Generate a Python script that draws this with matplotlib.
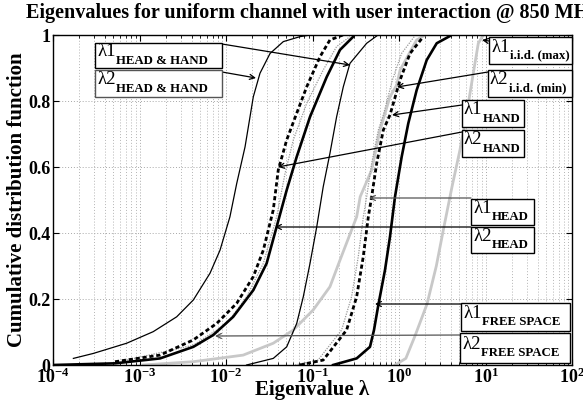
import numpy as np
import matplotlib
matplotlib.use("Agg")
import matplotlib.pyplot as plt
from matplotlib.patches import Rectangle
from matplotlib.ticker import FixedLocator, FixedFormatter, LogLocator, NullFormatter

plt.rcParams['font.family'] = ['Liberation Serif', 'DejaVu Sans']
plt.rcParams['font.weight'] = 'bold'
plt.rcParams['mathtext.fontset'] = 'custom'
plt.rcParams['mathtext.rm'] = 'Liberation Serif:bold'
plt.rcParams['mathtext.it'] = 'Liberation Serif:bold'
plt.rcParams['mathtext.bf'] = 'Liberation Serif:bold'
plt.rcParams['mathtext.default'] = 'bf'

# valores (eigenvalor, CDF)
hh_l2_x = [1.72e-4, 2.92e-4, 7.11e-4, 1.44e-3, 2.69e-3, 4.19e-3, 6.53e-3, 8.53e-3, 0.0111, 0.0133,
           0.0166, 0.0207, 0.0247, 0.0323, 0.046, 0.0717, 0.0936]
hh_l2_y = [0.020, 0.035, 0.066, 0.101, 0.146, 0.197, 0.278, 0.348, 0.449, 0.55,
           0.661, 0.813, 0.884, 0.944, 0.98, 0.995, 1.0]
hh_l1_x = [0.0173, 0.0352, 0.0503, 0.0657, 0.0783, 0.0936, 0.112, 0.133, 0.159, 0.19, 0.227, 0.271, 0.423, 0.552]
hh_l1_y = [0.0, 0.02, 0.055, 0.126, 0.207, 0.308, 0.419, 0.54, 0.641, 0.752, 0.843, 0.914, 0.975, 0.997]

hand_l2_x = [5.21e-4, 1.73e-3, 4.19e-3, 7.81e-3, 0.0133, 0.0207, 0.027, 0.0352, 0.0402, 0.0503,
             0.0657, 0.0857, 0.122, 0.159, 0.225]
hand_l2_y = [0.01, 0.03, 0.076, 0.126, 0.187, 0.268, 0.348, 0.47, 0.591, 0.682,
             0.763, 0.843, 0.934, 0.985, 1.0]
hand_l1_x = [0.0717, 0.133, 0.248, 0.324, 0.386, 0.442, 0.483, 0.552, 0.659, 0.787, 1.03, 1.34, 1.91]
hand_l1_y = [0.0, 0.015, 0.106, 0.207, 0.328, 0.449, 0.51, 0.611, 0.712, 0.758, 0.864, 0.944, 0.995]

head_l2_x = [7.11e-4, 4.19e-3, 0.0102, 0.0173, 0.027, 0.0385, 0.0481, 0.060, 0.0857, 0.133, 0.19, 0.271]
head_l2_y = [0.015, 0.06, 0.126, 0.207, 0.308, 0.449, 0.58, 0.682, 0.793, 0.894, 0.965, 0.995]
head_l1_x = [0.063, 0.116, 0.217, 0.283, 0.338, 0.387, 0.423, 0.483, 0.577, 0.66, 0.84, 1.07, 1.5]
head_l1_y = [0.0, 0.015, 0.106, 0.207, 0.328, 0.449, 0.51, 0.611, 0.712, 0.758, 0.864, 0.944, 0.995]

fs_l2_x = [1.0e-4, 5.21e-4, 1.73e-3, 4.19e-3, 7.13e-3, 0.0121, 0.0207, 0.0295, 0.0385, 0.0503,
           0.0657, 0.0936, 0.146, 0.208, 0.296]
fs_l2_y = [0.0, 0.005, 0.02, 0.055, 0.091, 0.146, 0.227, 0.308, 0.419, 0.53,
           0.631, 0.752, 0.873, 0.955, 0.995]
fs_l1_x = [0.173, 0.324, 0.462, 0.514, 0.577, 0.689, 0.787, 0.899, 1.074, 1.28, 1.60, 2.09, 2.73, 3.89]
fs_l1_y = [0.0, 0.02, 0.055, 0.106, 0.182, 0.288, 0.389, 0.51, 0.631, 0.732, 0.833, 0.924, 0.975, 0.997]

iid_l2_x = [1.1e-3, 4.19e-3, 0.0158, 0.0352, 0.060, 0.102, 0.159, 0.208, 0.324, 0.356, 0.483,
            0.603, 0.787, 0.94, 1.03, 1.60, 2.0]
iid_l2_y = [0.0, 0.01, 0.03, 0.066, 0.106, 0.167, 0.237, 0.318, 0.449, 0.51, 0.591,
            0.712, 0.813, 0.848, 0.894, 0.985, 1.0]
iid_l1_x = [0.9, 1.2, 1.53, 2.11, 2.7, 3.31, 4.1, 5.07, 6.07, 7.22, 8.26, 9.43]
iid_l1_y = [0.0, 0.02, 0.088, 0.185, 0.3, 0.419, 0.54, 0.652, 0.763, 0.884, 0.975, 1.0]

fig = plt.figure(figsize=(5.83, 4.05), dpi=100)
ax = fig.add_axes([53/583, 1 - 365/405, 519/583, 330/405])

thin = dict(color='black', lw=0.9)
gris_punt = dict(color='#9a9a9a', lw=0.9, ls=(0, (1, 1)))
negro_punt = dict(color='black', lw=2.0, ls=(0, (1.5, 1.0)))
grueso = dict(color='black', lw=1.9)
gris = dict(color='#c8c8c8', lw=2.0)

ax.plot(iid_l2_x, iid_l2_y, **gris)
ax.plot(iid_l1_x, iid_l1_y, **gris)
ax.plot(hh_l2_x, hh_l2_y, **thin)
ax.plot(hh_l1_x, hh_l1_y, **thin)
ax.plot(head_l2_x, head_l2_y, **gris_punt)
ax.plot(head_l1_x, head_l1_y, **gris_punt)
ax.plot(fs_l2_x, fs_l2_y, **grueso)
ax.plot(fs_l1_x, fs_l1_y, **grueso)
ax.plot(hand_l2_x, hand_l2_y, **negro_punt)
ax.plot(hand_l1_x, hand_l1_y, **negro_punt)

ax.set_xscale('log')
ax.set_xlim(1e-4, 1e2)
ax.set_ylim(0, 1)
ax.xaxis.set_major_locator(FixedLocator([1e-4, 1e-3, 1e-2, 1e-1, 1e0, 1e1, 1e2]))
ax.xaxis.set_major_formatter(FixedFormatter([r'$10^{%d}$' % e for e in range(-4, 3)]))
ax.xaxis.set_minor_locator(LogLocator(base=10, subs=np.arange(2, 10), numticks=20))
ax.xaxis.set_minor_formatter(NullFormatter())
ax.set_yticks([0, 0.2, 0.4, 0.6, 0.8, 1])
ax.set_yticklabels(['0', '0.2', '0.4', '0.6', '0.8', '1'])
ax.tick_params(which='both', direction='in', top=True, right=True, labelsize=13, pad=2)
ax.tick_params(which='major', length=4)
ax.tick_params(which='minor', length=2)
ax.grid(True, which='major', ls=(0, (1, 2)), color='#a8a8a8', lw=0.7)
ax.grid(True, which='minor', axis='x', ls=(0, (1, 2)), color='#b4b4b4', lw=0.7)
for s in ax.spines.values():
    s.set_linewidth(1.0)

ax.set_xlabel('Eigenvalue λ', fontsize=15, fontweight='bold', labelpad=-5)
ax.set_ylabel('Cumulative distribution function', fontsize=15, fontweight='bold', labelpad=1)
ax.set_title('Eigenvalues for uniform channel with user interaction @ 850 MHz',
             fontsize=14.5, fontweight='bold', pad=12)


def px(x, y):
    return ((x - 53) / 519, (365 - y) / 330)


# cajas: lambda, subindice, caja (x0, y0, x1, y1 en pixeles), flecha (inicio, punta), colores
notas = [
    ('λ1', 'HEAD & HAND', (95, 43, 222, 68), (222, 44), (350, 65), 'black', 'black'),
    ('λ2', 'HEAD & HAND', (95, 70, 222, 97), (222, 72), (256, 78), '#555555', 'black'),
    ('λ1', 'i.i.d. (max)', (489, 37, 572, 64), (489, 41), (482, 40), 'black', 'black'),
    ('λ2', 'i.i.d. (min)', (488, 70, 572, 97), (488, 72), (397, 87), 'black', 'black'),
    ('λ1', 'HAND', (462, 100, 524, 127), (462, 105), (392, 115), 'black', 'black'),
    ('λ2', 'HAND', (462, 130, 524, 157), (462, 132), (278, 167), 'black', 'black'),
    ('λ1', 'HEAD', (471, 199, 534, 225), (471, 198), (369, 198), 'black', '#555555'),
    ('λ2', 'HEAD', (471, 227, 534, 253), (471, 227), (275, 227), 'black', 'black'),
    ('λ1', 'FREE SPACE', (461, 303, 570, 331), (461, 304), (375, 304), 'black', 'black'),
    ('λ2', 'FREE SPACE', (460, 333, 570, 363), (460, 335), (215, 336), 'black', '#555555'),
]

for lam, sub, caja, ini, fin, c_caja, c_flecha in notas:
    ax.annotate('', xy=px(*fin), xycoords='axes fraction', xytext=px(*ini),
                textcoords='axes fraction',
                arrowprops=dict(arrowstyle='->', color=c_flecha, lw=0.9,
                                shrinkA=0, shrinkB=0, mutation_scale=9),
                zorder=6)
    x0, y1 = px(caja[0], caja[1])
    x1, y0 = px(caja[2], caja[3])
    ax.add_patch(Rectangle((x0, y0), x1 - x0, y1 - y0, transform=ax.transAxes,
                           fc='white', ec=c_caja, lw=1.0, clip_on=False, zorder=7))
    ym = (y0 + y1) / 2
    ax.text(x0 + 2 / 519, ym + 3.5 / 330, lam, transform=ax.transAxes,
            ha='left', va='center', fontsize=13.5, fontweight='normal', zorder=8)
    ax.text(x0 + 21 / 519, ym - 5 / 330, sub, transform=ax.transAxes,
            ha='left', va='center', fontsize=9.3, fontweight='bold', zorder=8)

plt.savefig('out.png', dpi=100)
plt.close()
